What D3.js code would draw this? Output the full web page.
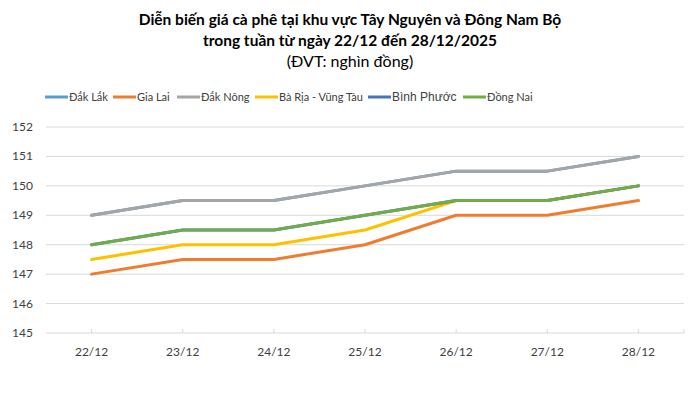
<!DOCTYPE html>
<html>
  <head>
    <meta charset="utf-8">
    <title>Giá cà phê</title>
    <script src="https://cdn.jsdelivr.net/npm/d3@7"></script>
    <style>
      body { margin: 0; background: #fff; }
      text { font-family: Lato, "Open Sans", sans-serif; fill: #404040; }
    </style>
  </head>
  <body>
    <script type="text/javascript">
      // data
      var days = ["22/12", "23/12", "24/12", "25/12", "26/12", "27/12", "28/12"];
      var yTicks = [145, 146, 147, 148, 149, 150, 151, 152];
      var names = ["Đắk Lắk", "Gia Lai", "Đắk Nông", "Bà Rịa - Vũng Tàu", "Bình Phước", "Đồng Nai"];
      var colors = ["#5B9BD5", "#ED7D31", "#A5A5A5", "#FFC000", "#4472C4", "#70AD47"];
      var dakLak   = [149, 149.5, 149.5, 150, 150.5, 150.5, 151];
      var giaLai   = [147, 147.5, 147.5, 148, 149, 149, 149.5];
      var dakNong  = [149, 149.5, 149.5, 150, 150.5, 150.5, 151];
      var baRia    = [147.5, 148, 148, 148.5, 149.5, 149.5, 150];
      var binhPhuoc = [148, 148.5, 148.5, 149, 149.5, 149.5, 150];
      var dongNai  = [148, 148.5, 148.5, 149, 149.5, 149.5, 150];
      var series = [dakLak, giaLai, dakNong, baRia, binhPhuoc, dongNai];

      var w = 700
      var h = 398
      var svg = d3.select("body").append("svg")
        .attr("width", w)
        .attr("height", h);

      // title
      var title = ["Diễn biến giá cà phê tại khu vực Tây Nguyên và Đông Nam Bộ",
                   "trong tuần từ ngày 22/12 đến 28/12/2025"];
      svg.selectAll(".title")
        .data(title)
        .enter()
        .append("text")
        .attr("class", "title")
        .attr("x", 350)
        .attr("y", function(d, i) { return 25 + i * 21; })
        .attr("text-anchor", "middle")
        .style("font-size", "15.5px")
        .style("font-weight", "bold")
        .style("fill", "#000")
        .text(function(d) { return d; });
      svg.append("text")
        .attr("x", 350)
        .attr("y", 67)
        .attr("text-anchor", "middle")
        .style("font-size", "16px")
        .style("fill", "#000")
        .text("(ĐVT: nghìn đồng)");

      // scales
      var x = d3.scaleBand().domain(days).range([46, 684]);
      var y = d3.scaleLinear().domain([145, 152]).range([333, 127]);

      // gridlines
      svg.append("g")
        .selectAll("line")
        .data(yTicks)
        .enter()
        .append("line")
        .attr("x1", 46)
        .attr("x2", 684)
        .attr("y1", function(d) { return y(d); })
        .attr("y2", function(d) { return y(d); })
        .attr("stroke", "#d9d9d9")
        .attr("stroke-width", 1);

      // y labels
      svg.append("g")
        .selectAll("text")
        .data(yTicks)
        .enter()
        .append("text")
        .attr("x", 33)
        .attr("y", function(d) { return y(d) + 4; })
        .attr("text-anchor", "end")
        .style("font-size", "12px")
        .text(function(d) { return d; });

      // x axis: ticks pointing up at category centres
      var ticks = days.map(function(d) { return x(d) + x.bandwidth() / 2; });
      ticks.push(684);
      svg.append("g")
        .selectAll("line")
        .data(ticks)
        .enter()
        .append("line")
        .attr("x1", function(d) { return d; })
        .attr("x2", function(d) { return d; })
        .attr("y1", 333)
        .attr("y2", 329)
        .attr("stroke", "#d9d9d9");
      svg.append("g")
        .selectAll("text")
        .data(days)
        .enter()
        .append("text")
        .attr("x", function(d) { return x(d) + x.bandwidth() / 2; })
        .attr("y", 356)
        .attr("text-anchor", "middle")
        .style("font-size", "12px")
        .text(function(d) { return d; });

      // lines
      var line = d3.line()
        .x(function(d, i) { return x(days[i]) + x.bandwidth() / 2; })
        .y(function(d) { return y(d); });
      svg.append("g")
        .selectAll("path")
        .data(series)
        .enter()
        .append("path")
        .attr("d", line)
        .attr("fill", "none")
        .attr("stroke", function(d, i) { return colors[i]; })
        .attr("stroke-width", 3)
        .attr("stroke-linejoin", "round")
        .attr("stroke-linecap", "round");

      // legend
      var legX = [45, 113, 177, 255, 368, 463];
      var leg = svg.append("g")
        .selectAll("g")
        .data(names)
        .enter()
        .append("g")
        .attr("transform", function(d, i) { return "translate(" + legX[i] + ",97)"; });
      leg.append("line")
        .attr("x1", 0)
        .attr("x2", 23)
        .attr("stroke", function(d, i) { return colors[i]; })
        .attr("stroke-width", 3);
      leg.append("text")
        .attr("x", 24)
        .attr("y", 4)
        .style("font-size", function(d, i) { return i == 4 ? "12px" : "11px"; })
        .style("font-family", function(d, i) { return i == 4 ? "Arial, 'Liberation Sans'" : null; })
        .text(function(d) { return d; });
    </script>
  </body>
</html>
